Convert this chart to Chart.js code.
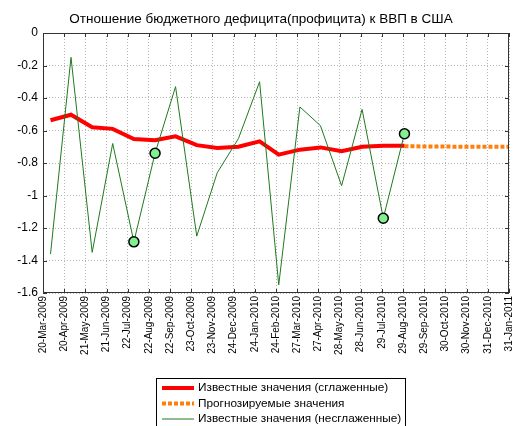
<!DOCTYPE html>
<html>
<head>
<meta charset="utf-8">
<script src="https://cdn.jsdelivr.net/npm/chart.js@4/dist/chart.umd.min.js"></script>
<style>
  html,body{margin:0;padding:0;background:#fff;}
  #wrap{width:524px;height:426px;}
</style>
</head>
<body>
<div id="wrap"><canvas id="c" width="524" height="426"></canvas></div>
<script>
// ---------------- DATA ----------------
const titleText = "Отношение бюджетного дефицита(профицита) к ВВП в США";
const tickDates = ["20-Mar-2009","20-Apr-2009","21-May-2009","21-Jun-2009","22-Jul-2009","22-Aug-2009",
  "22-Sep-2009","23-Oct-2009","23-Nov-2009","24-Dec-2009","24-Jan-2010","24-Feb-2010","27-Mar-2010",
  "27-Apr-2010","28-May-2010","28-Jun-2010","29-Jul-2010","29-Aug-2010","29-Sep-2010","30-Oct-2010",
  "30-Nov-2010","31-Dec-2010","31-Jan-2011"];
const yTicks = [0,-0.2,-0.4,-0.6,-0.8,-1,-1.2,-1.4,-1.6];

const knownDates = ["31-Mar-2009","30-Apr-2009","31-May-2009","30-Jun-2009","31-Jul-2009","31-Aug-2009",
  "30-Sep-2009","31-Oct-2009","30-Nov-2009","31-Dec-2009","31-Jan-2010","28-Feb-2010","31-Mar-2010",
  "30-Apr-2010","31-May-2010","30-Jun-2010","31-Jul-2010","31-Aug-2010"];
const rawValues = [-1.36,-0.15,-1.35,-0.68,-1.285,-0.74,-0.33,-1.25,-0.86,-0.65,-0.30,-1.55,-0.455,
  -0.57,-0.94,-0.47,-1.14,-0.62];
const smoothValues = [-0.537,-0.503,-0.58,-0.59,-0.652,-0.66,-0.636,-0.69,-0.708,-0.70,-0.667,-0.749,
  -0.718,-0.704,-0.728,-0.70,-0.694,-0.694];
const forecastDates = ["31-Aug-2010","30-Sep-2010","31-Oct-2010","30-Nov-2010","31-Dec-2010","31-Jan-2011"];
const forecastValues = [-0.697,-0.698,-0.699,-0.70,-0.70,-0.70];
const markedDates = ["31-Jul-2009","31-Aug-2009","31-Jul-2010","31-Aug-2010"];

const legendLabels = ["Известные значения (сглаженные)","Прогнозируемые значения","Известные значения (несглаженные)"];

// ---------------- HELPERS ----------------
const MON = {Jan:0,Feb:1,Mar:2,Apr:3,May:4,Jun:5,Jul:6,Aug:7,Sep:8,Oct:9,Nov:10,Dec:11};
function dayNum(s){
  const p = s.split("-");
  return Date.UTC(+p[2], MON[p[1]], +p[0]) / 86400000;
}
const day0 = dayNum(tickDates[0]);
const toX = s => dayNum(s) - day0;
const pts = (ds, vs) => ds.map((d,i)=>({x:toX(d), y:vs[i]}));
const markedPts = markedDates.map(d => ({x:toX(d), y:rawValues[knownDates.indexOf(d)]}));

const FONT = "'Liberation Sans', Arial, sans-serif";

// box, inward ticks, title, legend
const matlabPlugin = {
  id:"matlab",
  afterDraw(chart){
    const {ctx, chartArea:a, scales} = chart;
    ctx.save();
    ctx.strokeStyle = "#333"; ctx.lineWidth = 1;
    ctx.strokeRect(a.left+0.5, a.top+0.5, a.right-a.left-1, a.bottom-a.top-1);
    ctx.beginPath();
    scales.x.ticks.forEach(t=>{
      const x = Math.round(scales.x.getPixelForValue(t.value))+0.5;
      ctx.moveTo(x,a.bottom); ctx.lineTo(x,a.bottom-4);
      ctx.moveTo(x,a.top); ctx.lineTo(x,a.top+4);
    });
    scales.y.ticks.forEach(t=>{
      const y = Math.round(scales.y.getPixelForValue(t.value))+0.5;
      ctx.moveTo(a.left,y); ctx.lineTo(a.left+4,y);
      ctx.moveTo(a.right,y); ctx.lineTo(a.right-4,y);
    });
    ctx.stroke();

    // title
    ctx.fillStyle = "#000";
    ctx.font = "13.5px " + FONT;
    ctx.textAlign = "center"; ctx.textBaseline = "middle";
    ctx.fillText(titleText, 261, 19);

    // legend
    const lx = 156.5, ly = 378.5, lw = 249, lh = 60;
    ctx.fillStyle = "#fff";
    ctx.fillRect(lx, ly, lw, lh);
    ctx.strokeStyle = "#000";
    ctx.strokeRect(lx, ly, lw, lh);
    ctx.font = "11.8px " + FONT;
    ctx.textAlign = "left";
    [0,1,2].forEach((di,i)=>{
      const ds = chart.data.datasets[di];
      const y = 388 + i*15.5;
      ctx.save();
      ctx.strokeStyle = ds.borderColor;
      ctx.lineWidth = ds.borderWidth;
      ctx.setLineDash(ds.borderDash || []);
      ctx.beginPath(); ctx.moveTo(162, y); ctx.lineTo(194, y); ctx.stroke();
      ctx.restore();
      ctx.fillStyle = "#000";
      ctx.fillText(legendLabels[i], 198, y);
    });
    ctx.restore();
  }
};

new Chart(document.getElementById("c"), {
  type:"line",
  data:{
    datasets:[
      {label:legendLabels[0], data:pts(knownDates, smoothValues), borderColor:"#ff0000", borderWidth:4,
        pointRadius:0, tension:0, order:2},
      {label:legendLabels[1], data:pts(forecastDates, forecastValues), borderColor:"#ff7f0e", borderWidth:4,
        borderDash:[4,2], borderCapStyle:"butt", pointRadius:0, tension:0, order:2},
      {label:legendLabels[2], data:pts(knownDates, rawValues), borderColor:"#1f7a1f", borderWidth:1,
        pointRadius:0, tension:0, order:1},
      {label:"marks", data:markedPts, showLine:false, pointRadius:5, pointBorderWidth:1.5,
        pointBackgroundColor:"#80f090", pointBorderColor:"#000", order:0}
    ]
  },
  options:{
    responsive:false, animation:false,
    layout:{padding:{top:33, right:12, left:0, bottom:0}},
    plugins:{legend:{display:false}, title:{display:false}, tooltip:{enabled:false}},
    scales:{
      x:{
        type:"linear", min:0, max:toX(tickDates[tickDates.length-1]),
        afterBuildTicks(s){ s.ticks = tickDates.map(d=>({value:toX(d)})); },
        afterFit(s){ s.height = 133; },
        ticks:{
          autoSkip:false, minRotation:90, maxRotation:90, padding:3,
          color:"#000", font:{family:FONT, size:10},
          callback:(v,i)=>tickDates[i]
        },
        grid:{color:"#b5b5b5", lineWidth:1, drawTicks:false},
        border:{display:false, dash:[1,2]}
      },
      y:{
        type:"linear", min:-1.6, max:0,
        afterBuildTicks(s){ s.ticks = yTicks.map(v=>({value:v})); },
        afterFit(s){ s.width = 43; },
        ticks:{color:"#000", font:{family:FONT, size:12}, padding:5, callback:v=>String(v)},
        grid:{color:"#b5b5b5", lineWidth:1, drawTicks:false},
        border:{display:false, dash:[1,2]}
      }
    }
  },
  plugins:[matlabPlugin]
});
</script>
</body>
</html>
